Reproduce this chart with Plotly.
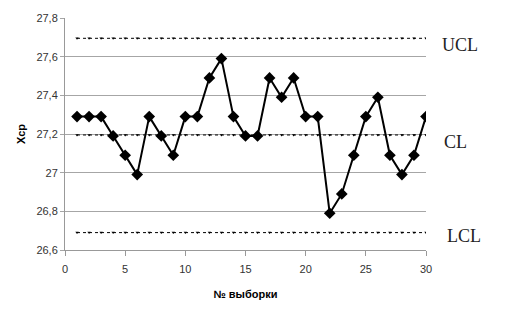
import plotly.graph_objects as go

samples = list(range(1, 31))
xcp = [27.29, 27.29, 27.29, 27.19, 27.09, 26.99, 27.29, 27.19, 27.09, 27.29,
       27.29, 27.49, 27.59, 27.29, 27.19, 27.19, 27.49, 27.39, 27.49, 27.29,
       27.29, 26.79, 26.89, 27.09, 27.29, 27.39, 27.09, 26.99, 27.09, 27.29]
ucl_val = 27.695
cl_val = 27.195
lcl_val = 26.69
limit_names = ["UCL", "CL", "LCL"]
limit_vals = [ucl_val, cl_val, lcl_val]

fig = go.Figure()
for v in limit_vals:
    fig.add_trace(go.Scatter(
        x=samples, y=[v] * len(samples), mode="lines+markers",
        line=dict(color="black", width=1, dash="dot"),
        marker=dict(symbol="triangle-down", size=3, color="black"),
        showlegend=False, hoverinfo="skip"))

fig.add_trace(go.Scatter(
    x=samples, y=xcp, mode="lines+markers",
    line=dict(color="black", width=2),
    marker=dict(symbol="diamond", size=9, color="black"),
    showlegend=False))

label_yshift = {"UCL": -7, "CL": -7, "LCL": -3}
label_xshift = {"UCL": 14, "CL": 16, "LCL": 19}
for name, v in zip(limit_names, limit_vals):
    fig.add_annotation(
        x=1, xref="paper", xanchor="left", xshift=label_xshift[name],
        y=v, yref="y", yanchor="middle", yshift=label_yshift[name],
        text=name, showarrow=False,
        font=dict(family="Liberation Serif", size=18, color="#222222"))

fig.update_layout(
    width=505, height=319,
    margin=dict(l=65, r=79, t=15, b=69),
    paper_bgcolor="white", plot_bgcolor="white",
    separators=", ",
    font=dict(family="Liberation Sans", size=11, color="#333333"),
)
fig.update_xaxes(
    range=[0, 30], dtick=5, tick0=0,
    showgrid=False, zeroline=False,
    showline=True, linecolor="#999999", linewidth=1,
    ticks="outside", tickcolor="#999999", ticklen=5,
    ticklabelstandoff=4,
    title=dict(text="<b>№ выборки</b>", font=dict(size=11, color="black"), standoff=16),
)
fig.update_yaxes(
    range=[26.6, 27.8], dtick=0.2, tick0=26.6,
    showgrid=True, gridcolor="#a6a6a6", gridwidth=1, zeroline=False,
    showline=True, linecolor="#999999", linewidth=1,
    ticks="outside", tickcolor="#a6a6a6", ticklen=4,
    title=dict(text="<b>Xcp</b>", font=dict(size=11, color="black"), standoff=8),
)

fig.write_html("out.html")
